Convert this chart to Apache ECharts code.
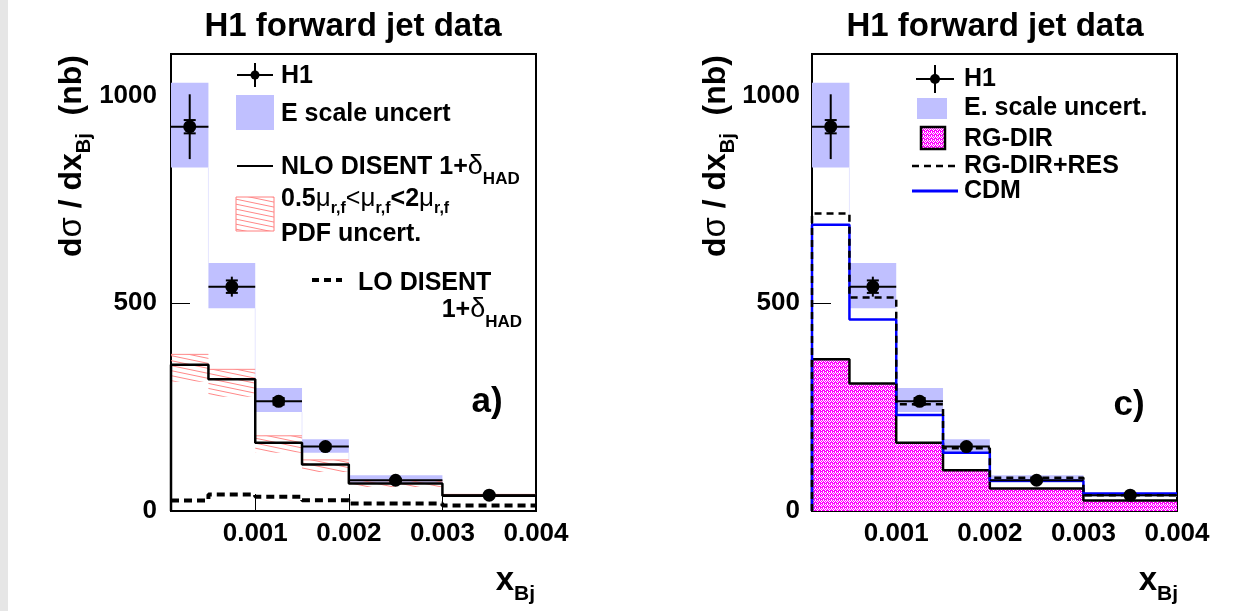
<!DOCTYPE html>
<html>
<head>
<meta charset="utf-8">
<title>H1 forward jet data</title>
<script src="https://cdn.jsdelivr.net/npm/echarts@6/dist/echarts.min.js"></script>
<style>
  html, body { margin: 0; padding: 0; background: #fff; }
  #main { width: 1248px; height: 611px; }
</style>
</head>
<body>
<div id="main"></div>
<script>
// x_Bj bins
const binEdges = [0.0001, 0.0005, 0.001, 0.0015, 0.002, 0.003, 0.004];
const binCenters = [0.0003, 0.00075, 0.00125, 0.00175, 0.0025, 0.0035];

// H1 data, nb
const h1Values = [925, 540, 264, 155, 74, 38];
const h1Stat = [16, 15, 8, 5, 3, 2];
const h1Total = [78, 24, 12, 8, 5, 3];
const eScaleLow = [827, 488, 238, 140, 68, 34];
const eScaleHigh = [1031, 597, 296, 173, 86, 41];

// panel a)
const nloDisent = [352, 317, 164, 112, 66, 37];
const nloBandLow = [311, 275, 140, 94, 58, 34];
const nloBandHigh = [377, 341, 181, 123, 73, 40];
const loDisent = [25, 40, 34, 26, 18, 13];

// panel c)
const rgDir = [365, 307, 164, 98, 54, 25];
const rgDirRes = [716, 514, 257, 151, 80, 38];
const cdm = [689, 461, 231, 140, 73, 42];

// axes
const xTicks = [0.001, 0.002, 0.003];
const xLabels = [0.001, 0.002, 0.003, 0.004];
const yTicks = [0, 500, 1000];

const FONT = '"Liberation Sans", Arial, Helvetica, sans-serif';
const BLUE_BOX = '#c0c0ff';

function steps(vals, fromZero) {
  let pts = fromZero ? [[binEdges[0], 0]] : [];
  vals.forEach((v, i) => {
    pts.push([binEdges[i], v]);
    pts.push([binEdges[i + 1], v]);
  });
  return pts;
}

function bandData(lo, hi) {
  return lo.map((l, i) => [binEdges[i], binEdges[i + 1], l, hi[i]]);
}

// fill patterns
function hatchPattern() {
  const c = document.createElement('canvas');
  c.width = 24; c.height = 5;
  const ctx = c.getContext('2d');
  ctx.strokeStyle = '#ff7a7a';
  ctx.lineWidth = 0.9;
  [-5, 0, 5].forEach(o => {
    ctx.beginPath(); ctx.moveTo(0, o); ctx.lineTo(24, o + 5); ctx.stroke();
  });
  return c;
}
function checkerPattern() {
  const c = document.createElement('canvas');
  c.width = 4; c.height = 4;
  const ctx = c.getContext('2d');
  ctx.fillStyle = '#ff00ff';
  ctx.fillRect(0, 0, 4, 4);
  ctx.fillStyle = '#ffffff';
  [[1, 0], [3, 0], [0, 1], [2, 1], [1, 2], [3, 3]].forEach(p => ctx.fillRect(p[0], p[1], 1, 1));
  return c;
}
const hatch = { image: hatchPattern(), repeat: 'repeat' };
const checker = { image: checkerPattern(), repeat: 'repeat' };

// E scale boxes, with the faint edge joining neighbouring bins
function renderEScale(params, api) {
  const i = params.dataIndex;
  const p0 = api.coord([api.value(0), api.value(3)]);
  const p1 = api.coord([api.value(1), api.value(2)]);
  const children = [{
    type: 'rect',
    shape: { x: p0[0], y: p0[1], width: p1[0] - p0[0], height: p1[1] - p0[1] },
    style: { fill: BLUE_BOX }
  }];
  if (i < eScaleLow.length - 1 && eScaleLow[i] > eScaleHigh[i + 1]) {
    const y2 = api.coord([api.value(1), eScaleHigh[i + 1]])[1];
    children.push({
      type: 'line',
      shape: { x1: p1[0], y1: p1[1], x2: p1[0], y2: y2 },
      style: { stroke: '#e6e6ff', lineWidth: 1 }
    });
  }
  return { type: 'group', children };
}

function renderHatch(params, api) {
  const p0 = api.coord([api.value(0), api.value(3)]);
  const p1 = api.coord([api.value(1), api.value(2)]);
  return {
    type: 'group',
    children: [
      { type: 'rect', shape: { x: p0[0], y: p0[1], width: p1[0] - p0[0], height: p1[1] - p0[1] },
        style: { fill: hatch } },
      { type: 'line', shape: { x1: p0[0], y1: p0[1], x2: p1[0], y2: p0[1] },
        style: { stroke: '#ff8a8a', lineWidth: 1 } }
    ]
  };
}

function renderChecker(params, api) {
  const p0 = api.coord([api.value(0), api.value(3)]);
  const p1 = api.coord([api.value(1), api.value(2)]);
  return {
    type: 'rect',
    shape: { x: p0[0], y: p0[1], width: p1[0] - p0[0], height: p1[1] - p0[1] },
    style: { fill: checker }
  };
}

function renderH1(params, api) {
  const x = api.value(0), y = api.value(1), st = api.value(2), tot = api.value(3);
  const c = api.coord([x, y]);
  const yTop = api.coord([x, y + tot])[1], yBot = api.coord([x, y - tot])[1];
  const sTop = api.coord([x, y + st])[1], sBot = api.coord([x, y - st])[1];
  const left = api.coord([api.value(4), y])[0], right = api.coord([api.value(5), y])[0];
  const ls = { stroke: '#000', lineWidth: 2 };
  return {
    type: 'group',
    children: [
      { type: 'line', shape: { x1: left, y1: c[1], x2: right, y2: c[1] }, style: ls },
      { type: 'line', shape: { x1: c[0], y1: yTop, x2: c[0], y2: yBot }, style: ls },
      { type: 'line', shape: { x1: c[0] - 6, y1: sTop, x2: c[0] + 6, y2: sTop }, style: ls },
      { type: 'line', shape: { x1: c[0] - 6, y1: sBot, x2: c[0] + 6, y2: sBot }, style: ls },
      { type: 'circle', shape: { cx: c[0], cy: c[1], r: 6.5 }, style: { fill: '#000' } }
    ]
  };
}

const h1Data = binCenters.map((x, i) => [x, h1Values[i], h1Stat[i], h1Total[i], binEdges[i], binEdges[i + 1]]);

// text made of runs (for subscripts and greek letters)
const measureCtx = document.createElement('canvas').getContext('2d');
function fontOf(p) {
  return (p.weight || 'bold') + ' ' + p.size + 'px ' + FONT;
}
function textRun(x, y, parts, align, extra) {
  const widths = parts.map(p => { measureCtx.font = fontOf(p); return measureCtx.measureText(p.t).width; });
  const total = widths.reduce((a, b) => a + b, 0);
  let cx = align === 'right' ? -total : (align === 'center' ? -total / 2 : 0);
  const children = parts.map((p, i) => {
    const el = {
      type: 'text', x: cx, y: p.dy || 0,
      style: { text: p.t, font: fontOf(p), fill: '#000',
               align: 'left', verticalAlign: 'middle', textAlign: 'left', textVerticalAlign: 'middle' }
    };
    cx += widths[i];
    return el;
  });
  return Object.assign({ type: 'group', x: x, y: y, silent: true, children }, extra || {});
}

function line(x1, y1, x2, y2, stroke, width, dash) {
  return { type: 'line', silent: true, shape: { x1, y1, x2, y2 },
           style: { stroke, lineWidth: width, lineDash: dash || null } };
}

const labelStyle = { color: '#000', fontSize: 26, fontWeight: 'bold', fontFamily: FONT };

function makeGrid(left) {
  return { left: left, top: 54, width: 365, height: 457, show: true,
           borderColor: '#000', borderWidth: 2, backgroundColor: '#fff', outerBoundsMode: 'none' };
}
function makeXAxis(gi) {
  return {
    type: 'value', gridIndex: gi, min: 0.0001, max: 0.004,
    axisLine: { show: false }, splitLine: { show: false },
    axisTick: { show: true, inside: true, length: 17, customValues: xTicks, lineStyle: { color: '#000', width: 1 } },
    axisLabel: Object.assign({ customValues: xLabels, margin: 10, showMinLabel: true, showMaxLabel: true,
      formatter: v => v.toFixed(3) }, labelStyle)
  };
}
function makeYAxis(gi, margin) {
  return {
    type: 'value', gridIndex: gi, min: 0, max: 1100,
    axisLine: { show: false }, splitLine: { show: false },
    axisTick: { show: true, inside: true, length: 19, customValues: yTicks, lineStyle: { color: '#000', width: 1 } },
    axisLabel: Object.assign({ customValues: yTicks, margin: margin, formatter: v => String(v) }, labelStyle)
  };
}

function stepSeries(gi, vals, color, width, dash, z, fromZero) {
  return {
    type: 'line', xAxisIndex: gi, yAxisIndex: gi, data: steps(vals, fromZero),
    showSymbol: false, symbol: 'none', silent: true, z: z,
    lineStyle: { color: color, width: width, type: dash || 'solid' }
  };
}

const titleParts = [{ t: 'H1 forward jet data', size: 33 }];
const yTitleParts = [
  { t: 'd', size: 32 }, { t: 'σ', size: 33, weight: 'normal' }, { t: ' / dx', size: 32 },
  { t: 'Bj', size: 20, dy: 12 }, { t: '  (nb)', size: 32 }
];
const xTitleParts = [{ t: 'x', size: 33 }, { t: 'Bj', size: 21, dy: 13 }];

const graphics = [
  { type: 'rect', silent: true, z: -10, shape: { x: 0, y: 0, width: 8, height: 611 }, style: { fill: '#e6e6e6' } },
  textRun(353, 27, titleParts, 'center'),
  textRun(995, 27, titleParts, 'center'),
  textRun(72, 55, yTitleParts, 'right', { rotation: Math.PI / 2 }),
  textRun(716, 55, yTitleParts, 'right', { rotation: Math.PI / 2 }),
  textRun(535, 581, xTitleParts, 'right'),
  textRun(1178, 581, xTitleParts, 'right'),

  // legend a)
  line(237, 75, 273, 75, '#000', 2),
  line(255, 63, 255, 87, '#000', 2),
  { type: 'circle', silent: true, shape: { cx: 255, cy: 75, r: 4.5 }, style: { fill: '#000' } },
  textRun(281, 76, [{ t: 'H1', size: 25 }], 'left'),
  { type: 'rect', silent: true, shape: { x: 236, y: 95, width: 38, height: 35 }, style: { fill: BLUE_BOX } },
  textRun(281, 114, [{ t: 'E scale uncert', size: 25 }], 'left'),
  line(237, 166, 273, 166, '#000', 2),
  textRun(281, 167, [{ t: 'NLO DISENT 1+', size: 25 }, { t: 'δ', size: 27, weight: 'normal' },
                     { t: 'HAD', size: 17, dy: 12 }], 'left'),
  { type: 'rect', silent: true, shape: { x: 236, y: 197, width: 38, height: 34 },
    style: { fill: hatch, stroke: '#ff8080', lineWidth: 1 } },
  textRun(281, 199, [{ t: '0.5', size: 25 }, { t: 'μ', size: 26, weight: 'normal' }, { t: 'r,f', size: 16, dy: 10 },
                     { t: '<', size: 25, weight: 'normal' }, { t: 'μ', size: 26, weight: 'normal' }, { t: 'r,f', size: 16, dy: 10 },
                     { t: '<2', size: 25 }, { t: 'μ', size: 26, weight: 'normal' }, { t: 'r,f', size: 16, dy: 10 }], 'left'),
  textRun(281, 234, [{ t: 'PDF uncert.', size: 25 }], 'left'),
  line(312, 280, 342, 280, '#000', 4, [7, 5]),
  textRun(358, 283, [{ t: 'LO DISENT', size: 25 }], 'left'),
  textRun(522, 310, [{ t: '1+', size: 25 }, { t: 'δ', size: 27, weight: 'normal' }, { t: 'HAD', size: 17, dy: 12 }], 'right'),
  textRun(487, 402, [{ t: 'a)', size: 35 }], 'center'),

  // legend c)
  line(916, 79, 954, 79, '#000', 2),
  line(935, 65, 935, 93, '#000', 2),
  { type: 'circle', silent: true, shape: { cx: 935, cy: 79, r: 5 }, style: { fill: '#000' } },
  textRun(964, 79, [{ t: 'H1', size: 25 }], 'left'),
  { type: 'rect', silent: true, shape: { x: 917, y: 98, width: 30, height: 21 }, style: { fill: BLUE_BOX } },
  textRun(964, 108, [{ t: 'E. scale uncert.', size: 25 }], 'left'),
  { type: 'rect', silent: true, shape: { x: 921, y: 127, width: 24, height: 22 },
    style: { fill: checker, stroke: '#000', lineWidth: 2.5 } },
  textRun(964, 139, [{ t: 'RG-DIR', size: 25 }], 'left'),
  line(912, 166, 957, 166, '#000', 2.5, [7, 5]),
  textRun(964, 166, [{ t: 'RG-DIR+RES', size: 25 }], 'left'),
  line(912, 191, 958, 191, '#0000ff', 3),
  textRun(964, 191, [{ t: 'CDM', size: 25 }], 'left'),
  textRun(1129, 405, [{ t: 'c)', size: 35 }], 'center')
];

const option = {
  animation: false,
  backgroundColor: '#fff',
  grid: [makeGrid(171), makeGrid(812)],
  xAxis: [makeXAxis(0), makeXAxis(1)],
  yAxis: [makeYAxis(0, 14), makeYAxis(1, 12)],
  graphic: { elements: graphics },
  series: [
    // a)
    { type: 'custom', xAxisIndex: 0, yAxisIndex: 0, z: 1, silent: true,
      data: bandData(eScaleLow, eScaleHigh), renderItem: renderEScale },
    { type: 'custom', xAxisIndex: 0, yAxisIndex: 0, z: 2, silent: true,
      data: bandData(nloBandLow, nloBandHigh), renderItem: renderHatch },
    stepSeries(0, nloDisent, '#000', 2.5, null, 3, true),
    stepSeries(0, loDisent, '#000', 4, [8, 5], 3, false),
    { type: 'custom', xAxisIndex: 0, yAxisIndex: 0, z: 5, silent: true,
      data: h1Data, renderItem: renderH1 },
    // c)
    { type: 'custom', xAxisIndex: 1, yAxisIndex: 1, z: 1, silent: true,
      data: bandData(eScaleLow, eScaleHigh), renderItem: renderEScale },
    { type: 'custom', xAxisIndex: 1, yAxisIndex: 1, z: 2, silent: true,
      data: bandData(rgDir.map(() => 0), rgDir), renderItem: renderChecker },
    stepSeries(1, rgDir, '#000', 2.5, null, 3, true),
    stepSeries(1, cdm, '#0000ff', 2.5, null, 3, true),
    stepSeries(1, rgDirRes, '#000', 2.5, [7, 5], 4, true),
    { type: 'custom', xAxisIndex: 1, yAxisIndex: 1, z: 5, silent: true,
      data: h1Data, renderItem: renderH1 }
  ]
};

const chart = echarts.init(document.getElementById('main'), null, { renderer: 'canvas' });
chart.setOption(option);
</script>
</body>
</html>
